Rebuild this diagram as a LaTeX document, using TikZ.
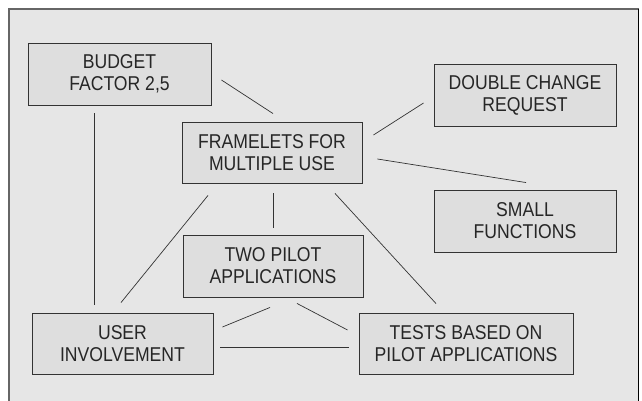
\documentclass[tikz,border=0pt]{standalone}
\usepackage{fontspec}
\setmainfont{Liberation Sans}[FakeStretch=0.88]
\usepackage{tikz}
\definecolor{panelgray}{HTML}{E6E6E6}
\definecolor{boxgray}{HTML}{DEDEDE}
\definecolor{inkgray}{HTML}{333333}
\tikzset{itembox/.style={draw=inkgray, line width=0.9pt, fill=boxgray, align=center, inner sep=0pt,
    font=\fontsize{20}{22}\selectfont, text=black!85}}
\tikzset{link/.style={draw=inkgray, line width=0.7pt}}

\begin{document}
\begin{tikzpicture}[x=1pt,y=1pt]
\useasboundingbox (0,0) rectangle (642,400);
\fill[white] (0,0) rectangle (642,400);
\draw[fill=panelgray, draw=black!60, line width=1.2pt] (9,-5) rectangle (638.5,391);
\draw[black, line width=1.2pt] (638.5,-5) -- (638.5,391);
% boxes
\node[itembox, minimum width=183pt, minimum height=62pt] (budget) at (119.5,326) {BUDGET\\FACTOR 2,5};
\node[itembox, minimum width=180pt, minimum height=61pt] (framelets) at (272,247.5) {FRAMELETS FOR\\MULTIPLE USE};
\node[itembox, minimum width=182pt, minimum height=62pt] (double) at (525,305) {DOUBLE CHANGE\\REQUEST};
\node[itembox, minimum width=182pt, minimum height=62pt] (small) at (525,179) {SMALL\\FUNCTIONS};
\node[itembox, minimum width=180pt, minimum height=62pt] (twopilot) at (273,134) {TWO PILOT\\APPLICATIONS};
\node[itembox, minimum width=181pt, minimum height=61pt] (user) at (122.5,56.5) {USER\\INVOLVEMENT};
\node[itembox, minimum width=214pt, minimum height=61pt] (tests) at (466,56.5) {TESTS BASED ON\\PILOT APPLICATIONS};
% connections
\draw[link] ([shift={(10,-6)}]budget.east) -- ([shift={(1,8)}]framelets.north);
\draw[link] ([shift={(-25.5,-8)}]budget.south) -- ([shift={(-28.5,8)}]user.north);
\draw[link] ([shift={(11,17.5)}]framelets.east) -- ([shift={(-10,-8)}]double.west);
\draw[link] ([shift={(15,-6.5)}]framelets.east) -- ([shift={(1,7)}]small.north);
\draw[link] ([shift={(-64,-12)}]framelets.south) -- ([shift={(-1.5,10)}]user.north);
\draw[link] ([shift={(1,-10)}]framelets.south) -- ([shift={(0,7)}]twopilot.north);
\draw[link] ([shift={(63,-10)}]framelets.south) -- ([shift={(-30,9)}]tests.north);
\draw[link] ([shift={(-3,-10)}]twopilot.south) -- ([shift={(9,16.5)}]user.east);
\draw[link] ([shift={(24,-6)}]twopilot.south) -- ([shift={(-11,13.5)}]tests.west);
\draw[link] ([shift={(7,-3.5)}]user.east) -- ([shift={(-10,-3.5)}]tests.west);
\end{tikzpicture}
\end{document}
